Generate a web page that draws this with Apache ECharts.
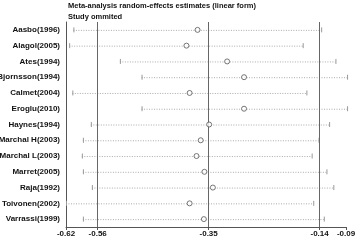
<!DOCTYPE html>
<html>
<head>
<meta charset="utf-8">
<script src="https://cdn.jsdelivr.net/npm/echarts@6/dist/echarts.min.js"></script>
<style>
  html, body { margin: 0; padding: 0; background: #fff; }
  #chart { width: 358px; height: 240px; }
</style>
</head>
<body>
<div id="chart"></div>
<script>
// studies, top to bottom
var studies = ['Aasbo(1996)', 'Alagol(2005)', 'Ates(1994)', 'Bjornsson(1994)', 'Calmet(2004)',
  'Eroglu(2010)', 'Haynes(1994)', 'Marchal H(2003)', 'Marchal L(2003)', 'Marret(2005)',
  'Raja(1992)', 'Toivonen(2002)', 'Varrassi(1999)']
// estimate with the study omitted, and its CI
var estimate = [-0.371, -0.392, -0.315, -0.283, -0.386, -0.283, -0.349, -0.365, -0.373, -0.358, -0.342, -0.386, -0.359]
var lower = [-0.606, -0.614, -0.518, -0.477, -0.608, -0.477, -0.573, -0.588, -0.590, -0.588, -0.571, -0.620, -0.588]
var upper = [-0.137, -0.172, -0.110, -0.088, -0.165, -0.088, -0.122, -0.142, -0.155, -0.127, -0.114, -0.152, -0.132]
var tickValues = [-0.62, -0.56, -0.35, -0.14, -0.09]
var refLines = [-0.56, -0.35, -0.14]

var font = 'Liberation Sans, Arial, sans-serif'
var chart = echarts.init(document.getElementById('chart'))

var ciData = studies.map(function (s, i) { return [lower[i], upper[i], i] })
var estData = studies.map(function (s, i) { return [estimate[i], i] })

chart.setOption({
  animation: false,
  title: {
    text: 'Meta-analysis random-effects estimates (linear form)\nStudy ommited',
    left: 68,
    top: 0,
    padding: 0,
    textStyle: { fontSize: 7.5, fontWeight: 'bold', color: '#111', lineHeight: 11.5, fontFamily: font }
  },
  grid: { left: 66, right: 12, top: 22, bottom: 13, containLabel: false, outerBoundsMode: 'none' },
  xAxis: {
    type: 'value',
    min: -0.62,
    max: -0.09,
    axisLine: { show: true, lineStyle: { color: '#555' } },
    axisTick: { show: true, length: 3, customValues: tickValues, lineStyle: { color: '#555' } },
    axisLabel: {
      customValues: tickValues,
      fontSize: 8, fontWeight: 'bold', color: '#111', margin: 3,
      fontFamily: font,
      formatter: function (v) { return v.toFixed(2) }
    },
    splitLine: { show: false }
  },
  yAxis: {
    type: 'category',
    inverse: true,
    data: studies,
    axisLine: { show: true, lineStyle: { color: '#555' } },
    axisTick: { show: false },
    axisLabel: { fontSize: 8, fontWeight: 'bold', color: '#111', margin: 6, fontFamily: font }
  },
  series: [
    {
      type: 'custom',
      data: ciData,
      clip: false,
      renderItem: function (params, api) {
        var a = api.coord([api.value(0), api.value(2)])
        var b = api.coord([api.value(1), api.value(2)])
        var style = { stroke: '#999', lineWidth: 1 }
        return {
          type: 'group',
          children: [
            { type: 'line', shape: { x1: a[0], y1: a[1] + 0.5, x2: b[0], y2: b[1] + 0.5 }, style: { stroke: '#aaa', lineWidth: 1, lineDash: [1, 1.5] } },
            { type: 'line', shape: { x1: a[0] + 0.5, y1: a[1] - 2.5, x2: a[0] + 0.5, y2: a[1] + 2.5 }, style: style },
            { type: 'line', shape: { x1: b[0] + 0.5, y1: b[1] - 2.5, x2: b[0] + 0.5, y2: b[1] + 2.5 }, style: style }
          ]
        }
      },
      markLine: {
        silent: true,
        symbol: 'none',
        label: { show: false },
        lineStyle: { color: '#666', type: 'solid', width: 1 },
        data: refLines.map(function (v) { return { xAxis: v } })
      }
    },
    {
      type: 'scatter',
      data: estData,
      symbol: 'circle',
      symbolSize: 5,
      itemStyle: { color: '#fff', borderColor: '#555', borderWidth: 1 },
      z: 5
    }
  ]
})
</script>
</body>
</html>
